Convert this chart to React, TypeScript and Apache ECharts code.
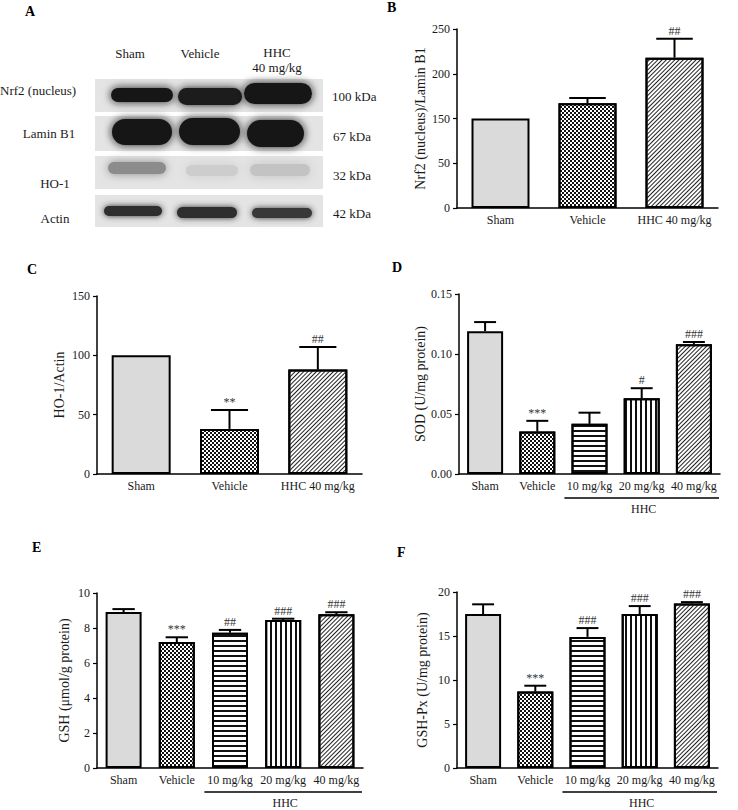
import React, { useEffect, useRef } from 'react';
import * as echarts from 'echarts';

// ---------- data ----------
const threeGroups = ['Sham', 'Vehicle', 'HHC 40 mg/kg'];
const fiveGroups = ['Sham', 'Vehicle', '10 mg/kg', '20 mg/kg', '40 mg/kg'];

// B: Nrf2 (nucleus)/Lamin B1 (axis labelled 0,50,150,200,250 at equal spacing)
const nrf2Mean = [150, 167, 218];
const nrf2Err = [0, 6, 21];
const nrf2Marks = ['', '', '##'];
const nrf2TickLabels = ['0', '50', '150', '200', '250'];

// C: HO-1/Actin
const ho1Mean = [100, 38, 88];
const ho1Err = [0, 16, 19];
const ho1Marks = ['', '**', '##'];
const ho1Ticks = [0, 150, 50];

// D: SOD
const sodMean = [0.119, 0.0354, 0.0418, 0.0632, 0.1082];
const sodErr = [0.0076, 0.0089, 0.0093, 0.0083, 0.0018];
const sodMarks = ['', '***', '', '#', '###'];
const sodTicks = [0, 0.15, 0.05];

// E: GSH
const gshMean = [8.91, 7.2, 7.73, 8.46, 8.78];
const gshErr = [0.17, 0.27, 0.16, 0.07, 0.12];
const gshMarks = ['', '***', '##', '###', '###'];
const gshTicks = [0, 10, 2];

// F: GSH-Px
const gpxMean = [17.5, 8.7, 14.9, 17.5, 18.7];
const gpxErr = [1.1, 0.65, 1.0, 0.9, 0.15];
const gpxMarks = ['', '***', '###', '###', '###'];
const gpxTicks = [0, 20, 5];

// A: western blot
const laneLabels = ['Sham', 'Vehicle', 'HHC'];
const blotRows = ['Nrf2 (nucleus)', 'Lamin B1', 'HO-1', 'Actin'];
const blotSizes = ['100 kDa', '67 kDa', '32 kDa', '42 kDa'];

// ---------- styles ----------
const FONT = 'Liberation Serif, Times New Roman, serif';
const TXT = '#1a1a1a';

const patterns: Record<string, any> = {
  sham: {
    color: '#dadada',
  },
  vehicle: {
    color: '#ffffff',
    decal: { symbol: 'rect', symbolSize: 1, dashArrayX: [[1.5, 1.5], [0, 1.5, 1.5, 0]], dashArrayY: [1.5, 0], color: '#111' },
  },
  horiz: {
    color: '#ffffff',
    decal: { symbol: 'rect', symbolSize: 1, dashArrayX: [1, 0], dashArrayY: [1.2, 2.8], color: '#111' },
  },
  vert: {
    color: '#ffffff',
    decal: { symbol: 'rect', symbolSize: 1, dashArrayX: [1.4, 2.6], dashArrayY: [1, 0], color: '#111' },
  },
  diag: {
    color: '#ffffff',
    decal: { symbol: 'rect', symbolSize: 1, dashArrayX: [1, 0], dashArrayY: [1, 2], rotation: -Math.PI / 4, color: '#222' },
  },
};
const threeStyles = ['sham', 'vehicle', 'diag'];
const fiveStyles = ['sham', 'vehicle', 'horiz', 'vert', 'diag'];

const grids = [
  { left: 457, top: 29, width: 261, height: 179 }, // B
  { left: 97, top: 296, width: 265, height: 178 }, // C
  { left: 459, top: 294, width: 261, height: 180 }, // D
  { left: 97, top: 593, width: 266, height: 175 }, // E
  { left: 457, top: 592, width: 261, height: 176 }, // F
];

// B axis: equally spaced ticks labelled 0, 50, 150, 200, 250 (segment 50–150 compressed)
const nrf2Pos = (v: number) => (v <= 50 ? v / 50 : v >= 150 ? 2 + (v - 150) / 50 : 1 + (v - 50) / 100);

function barData(means: number[], styles: string[], map = (v: number) => v) {
  return means.map((m, i) => ({
    value: map(m),
    itemStyle: {
      ...patterns[styles[i]],
      borderColor: '#000',
      borderWidth: 2,
    },
  }));
}

function errData(means: number[], errs: number[], map = (v: number) => v) {
  return means.map((m, i) => [i, map(m), map(m + errs[i])]);
}

function errRender(marks: string[]) {
  return (params: any, api: any) => {
    const x = api.value(0);
    const base = api.coord([x, api.value(1)]);
    const top = api.coord([x, api.value(2)]);
    const band = api.size([1, 0])[0];
    const half = band * 0.21;
    const children: any[] = [];
    if (base[1] - top[1] > 0.5) {
      children.push({
        type: 'line',
        shape: { x1: base[0], y1: base[1], x2: top[0], y2: top[1] },
        style: { stroke: '#000', lineWidth: 2 },
      });
      children.push({
        type: 'line',
        shape: { x1: top[0] - half, y1: top[1], x2: top[0] + half, y2: top[1] },
        style: { stroke: '#000', lineWidth: 2 },
      });
    }
    const mk = marks[params.dataIndex];
    if (mk) {
      children.push({
        type: 'text',
        style: {
          text: mk,
          x: top[0],
          y: top[1] - 2,
          align: 'center',
          verticalAlign: 'bottom',
          font: `12px ${FONT}`,
          fill: '#333',
        },
      });
    }
    return { type: 'group', children };
  };
}

function xAxis(gridIndex: number, cats: string[]) {
  return {
    type: 'category',
    gridIndex,
    data: cats,
    axisLine: { lineStyle: { color: '#000', width: 1.5 } },
    axisTick: { alignWithLabel: true, length: 4, lineStyle: { color: '#000', width: 1.2 } },
    axisLabel: { interval: 0, fontSize: 12, fontFamily: FONT, color: TXT, margin: 6 },
  };
}

function yAxis(gridIndex: number, name: string, ticks: number[], nameGap: number, fmt?: (v: number) => string) {
  return {
    type: 'value',
    gridIndex,
    min: ticks[0],
    max: ticks[1],
    interval: ticks[2],
    name,
    nameLocation: 'middle',
    nameGap,
    nameTextStyle: { fontSize: 14, fontFamily: FONT, color: TXT },
    axisLine: { show: true, lineStyle: { color: '#000', width: 1.5 } },
    axisTick: { show: true, length: 4, lineStyle: { color: '#000', width: 1.2 } },
    splitLine: { show: false },
    axisLabel: { fontSize: 12, fontFamily: FONT, color: TXT, margin: 7, formatter: fmt },
  };
}

function panelSeries(idx: number, means: number[], errs: number[], marks: string[], styles: string[], barWidth: number, map = (v: number) => v) {
  return [
    {
      type: 'bar',
      xAxisIndex: idx,
      yAxisIndex: idx,
      barWidth,
      data: barData(means, styles, map),
      z: 2,
    },
    {
      type: 'custom',
      xAxisIndex: idx,
      yAxisIndex: idx,
      renderItem: errRender(marks),
      data: errData(means, errs, map),
      z: 5,
    },
  ];
}

// ---------- western blot graphic ----------
function blotGraphic() {
  const g: any[] = [];
  const stripX = 95;
  const stripW = 228;
  const strips = [
    [79, 33],
    [116, 35],
    [156, 33],
    [195, 32],
  ];
  strips.forEach(([y, h]) => {
    g.push({ type: 'rect', shape: { x: stripX, y, width: stripW, height: h }, style: { fill: '#e4e4e4' } });
  });
  // bands: [x, y, w, h, grey level, blur]
  const bands: number[][] = [
    [111, 88, 62, 14, 25, 4],
    [178, 88, 64, 17, 30, 4],
    [244, 83, 68, 21, 25, 4],
    [112, 119, 60, 26, 22, 4],
    [179, 118, 61, 27, 22, 4],
    [247, 120, 57, 27, 24, 4],
    [108, 162, 58, 12, 140, 5],
    [186, 165, 52, 11, 205, 6],
    [250, 164, 60, 12, 195, 6],
    [104, 206, 58, 10, 45, 3],
    [177, 207, 60, 11, 45, 3],
    [252, 208, 60, 10, 55, 3],
  ];
  bands.forEach(([x, y, w, h, c, b]) => {
    const col = `rgb(${c},${c},${c})`;
    g.push({
      type: 'rect',
      shape: { x, y, width: w, height: h, r: h / 2 },
      style: { fill: col, shadowBlur: b * 2, shadowColor: col },
    });
  });
  const t = (text: string, x: number, y: number, align = 'center', size = 13) => ({
    type: 'text',
    x,
    y,
    style: { text, align, verticalAlign: 'middle', font: `${size}px ${FONT}`, fill: TXT },
  });
  g.push(t(laneLabels[0], 130, 53));
  g.push(t(laneLabels[1], 200, 53));
  g.push(t(laneLabels[2], 277, 52));
  g.push(t('40 mg/kg', 277, 67));
  g.push(t(blotRows[0], 0, 90, 'left'));
  g.push(t(blotRows[1], 49, 133));
  g.push(t(blotRows[2], 55, 183));
  g.push(t(blotRows[3], 55, 218));
  g.push(t(blotSizes[0], 332, 96, 'left'));
  g.push(t(blotSizes[1], 333, 136, 'left'));
  g.push(t(blotSizes[2], 333, 175, 'left'));
  g.push(t(blotSizes[3], 333, 213, 'left'));
  return g;
}

function letters() {
  const L = (text: string, x: number, y: number) => ({
    type: 'text',
    x,
    y,
    style: { text, align: 'left', verticalAlign: 'top', font: `bold 14px ${FONT}`, fill: '#000' },
  });
  return [L('A', 25, 4), L('B', 387, 0), L('C', 27, 262), L('D', 392, 260), L('E', 32, 540), L('F', 397, 545)];
}

function hhcBrackets() {
  const out: any[] = [];
  [2, 3, 4].forEach((gi) => {
    const gr = grids[gi];
    const x0 = gr.left + (gr.width * 2) / 5 + 1;
    const x1 = gr.left + gr.width - 1;
    const y = gr.top + gr.height + 24;
    out.push({ type: 'line', shape: { x1: x0, y1: y, x2: x1, y2: y }, style: { stroke: '#000', lineWidth: 1.5 } });
    out.push({
      type: 'text',
      x: (x0 + x1) / 2 + 2,
      y: y + 11,
      style: { text: 'HHC', align: 'center', verticalAlign: 'middle', font: `12px ${FONT}`, fill: TXT },
    });
  });
  return out;
}

export default function App() {
  const ref = useRef<HTMLDivElement>(null);
  useEffect(() => {
    if (!ref.current) return;
    const chart = echarts.init(ref.current, undefined, { renderer: 'svg' });
    chart.setOption({
      animation: false,
      backgroundColor: '#ffffff',
      grid: grids.map((g) => ({ ...g, containLabel: false })),
      xAxis: [
        xAxis(0, threeGroups),
        xAxis(1, threeGroups),
        xAxis(2, fiveGroups),
        xAxis(3, fiveGroups),
        xAxis(4, fiveGroups),
      ],
      yAxis: [
        yAxis(0, 'Nrf2 (nucleus)/Lamin B1', [0, 4, 1], 30, (v: number) => nrf2TickLabels[Math.round(v)] ?? ''),
        yAxis(1, 'HO-1/Actin', ho1Ticks, 31),
        yAxis(2, 'SOD (U/mg protein)', sodTicks, 31, (v: number) => v.toFixed(2)),
        yAxis(3, 'GSH (μmol/g protein)', gshTicks, 26),
        yAxis(4, 'GSH-Px (U/mg protein)', gpxTicks, 28),
      ],
      series: [
        ...panelSeries(0, nrf2Mean, nrf2Err, nrf2Marks, threeStyles, 58, nrf2Pos),
        ...panelSeries(1, ho1Mean, ho1Err, ho1Marks, threeStyles, 59),
        ...panelSeries(2, sodMean, sodErr, sodMarks, fiveStyles, 36),
        ...panelSeries(3, gshMean, gshErr, gshMarks, fiveStyles, 36),
        ...panelSeries(4, gpxMean, gpxErr, gpxMarks, fiveStyles, 36),
      ],
      graphic: [...blotGraphic(), ...letters(), ...hhcBrackets()],
    });
    return () => chart.dispose();
  }, []);
  return <div ref={ref} style={{ position: 'absolute', left: 0, top: 0, width: 738, height: 810 }} />;
}
